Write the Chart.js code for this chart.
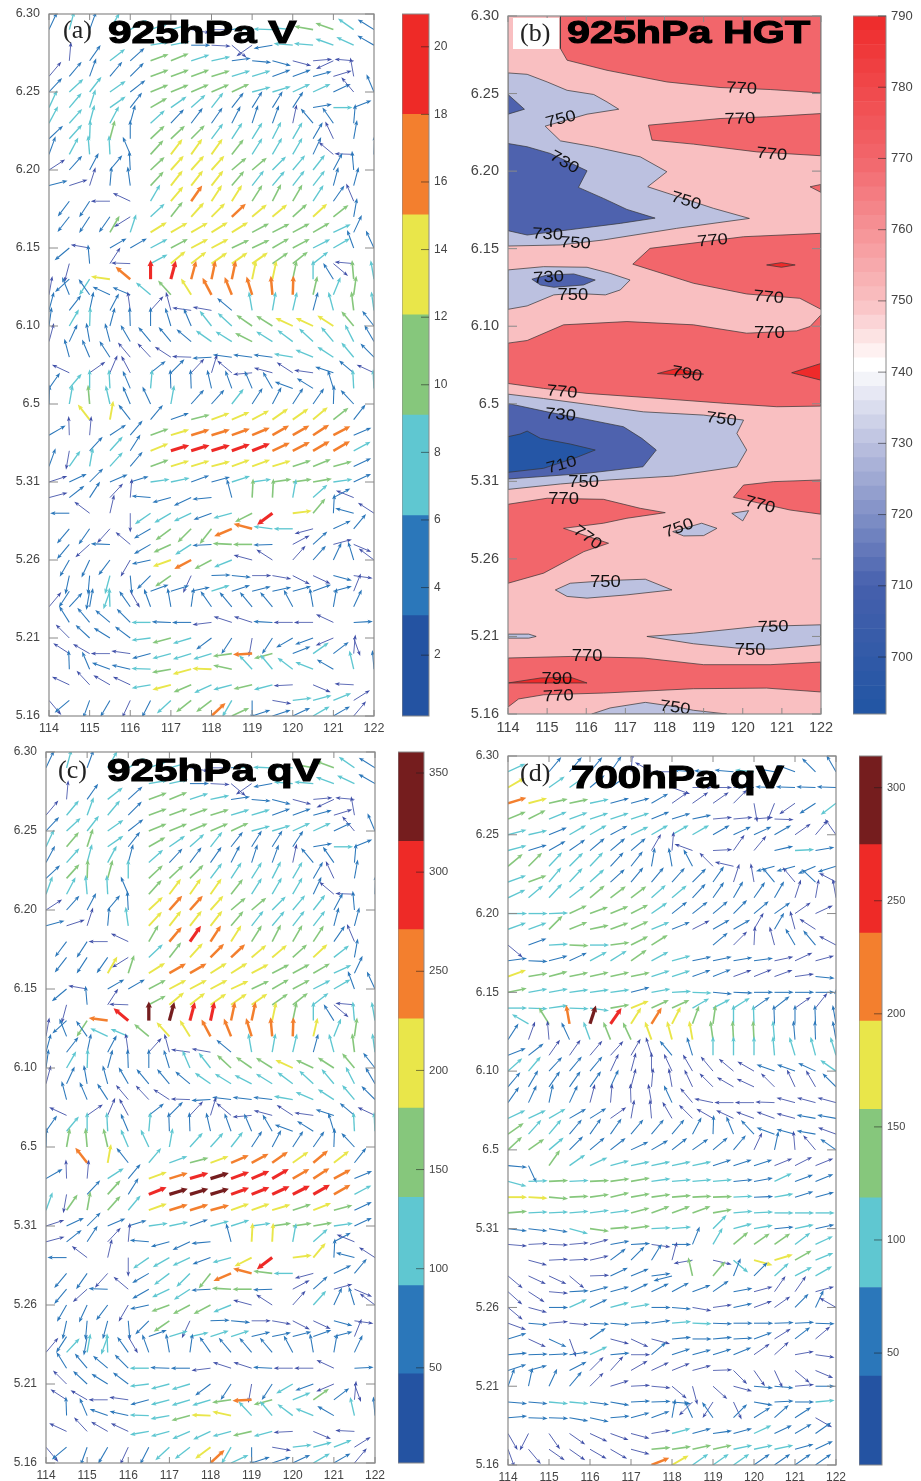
<!DOCTYPE html>
<html>
<head>
<meta charset="utf-8">
<script src="https://cdn.jsdelivr.net/npm/chart.js@4/dist/chart.umd.min.js"></script>
<style>
  body { margin: 0; background: #fff; }
  #page { position: relative; width: 921px; height: 1481px; overflow: hidden; }
  canvas { position: absolute; }
  .tag { position: absolute; font: 26px "Liberation Serif", serif; color: #222; line-height: 1; z-index: 3; }
  .title { position: absolute; font: bold 32px "Liberation Sans", sans-serif; color: #000; line-height: 1; z-index: 3;
    -webkit-text-stroke: 1.1px #000; transform-origin: left top; white-space: nowrap; }
  #tagbox { position: absolute; left: 513px; top: 18px; width: 46px; height: 31px; background: #fff; z-index: 2; }
</style>
</head>
<body>
<div id="page">
  <div id="tagbox"></div>
  <span class="tag" style="left:63px;top:17px">(a)</span>
  <span class="title" style="left:108px;top:16px;transform:scaleX(1.325)">925hPa V</span>
  <span class="tag" style="left:520px;top:20px">(b)</span>
  <span class="title" style="left:567px;top:16px;transform:scaleX(1.29)">925hPa HGT</span>
  <span class="tag" style="left:58px;top:757px">(c)</span>
  <span class="title" style="left:107px;top:754px;transform:scaleX(1.32)">925hPa qV</span>
  <span class="tag" style="left:520px;top:760px">(d)</span>
  <span class="title" style="left:571px;top:761px;transform:scaleX(1.315)">700hPa qV</span>
</div>
<script>
const lons = [114,114.5,115,115.5,116,116.5,117,117.5,118,118.5,119,119.5,120,120.5,121,121.5,122];
const dateLabels = ["5.16","5.21","5.26","5.31","6.5","6.10","6.15","6.20","6.25","6.30"];

// wind rows run from day 44 (top) to day 0, direction in degrees ccw from east, speed 0 = no arrow
const aDir = [
[65,75,70,60,30,20,15,350,0,5,178,178,175,170,160,145,148],
[0,0,0,0,0,10,12,0,357,320,215,190,175,175,160,155,150],
[0,85,55,38,42,20,22,18,12,8,355,345,345,5,205,175,0],
[50,50,70,50,45,20,20,20,17,17,17,20,20,15,17,100,0],
[47,43,52,35,38,22,22,23,23,25,15,17,25,25,25,130,113],
[65,50,72,35,52,30,35,42,52,52,58,58,57,10,0,22,0],
[62,48,75,62,75,42,47,53,55,63,72,70,78,130,125,85,0],
[43,48,88,75,90,43,43,45,53,57,58,63,60,60,115,80,0],
[70,62,95,93,113,48,53,55,55,52,58,60,60,65,140,178,88],
[33,48,62,50,93,43,48,48,48,40,40,45,50,52,62,95,0],
[15,18,72,85,98,47,52,52,52,50,52,50,52,52,75,75,0],
[0,233,237,180,155,60,50,55,57,58,58,63,60,57,55,113,0],
[0,232,237,235,212,43,52,48,45,43,40,40,42,43,38,80,0],
[0,0,0,60,72,32,30,30,32,32,28,27,28,30,25,65,0],
[0,220,170,30,30,28,28,28,28,25,25,30,28,27,30,110,115],
[0,255,95,57,178,28,40,38,35,35,35,35,38,38,320,175,0],
[0,222,237,172,140,90,75,75,78,78,78,78,78,90,122,95,100],
[80,112,125,155,157,140,132,122,118,112,107,95,88,77,68,82,0],
[75,52,78,62,98,48,105,172,170,140,100,80,77,75,105,97,98],
[82,60,88,75,92,90,107,113,128,137,145,148,155,155,147,130,128],
[75,65,100,105,120,130,130,140,145,148,153,148,143,137,130,117,120],
[0,105,113,123,130,133,147,178,183,173,173,173,170,157,147,130,135],
[0,155,35,67,118,38,45,47,73,140,185,165,147,172,162,140,155],
[55,50,90,93,113,85,92,92,103,110,113,120,160,148,107,93,93],
[88,80,95,103,113,115,80,48,48,52,57,62,57,55,88,133,0],
[0,0,128,80,128,50,20,15,20,23,28,35,35,40,38,52,0],
[30,92,85,33,50,20,17,17,17,20,23,30,30,33,28,23,0],
[0,260,47,48,58,22,17,17,17,20,22,25,27,30,30,28,0],
[70,55,80,48,50,20,17,17,15,20,20,17,18,22,15,25,0],
[18,25,45,23,17,8,12,20,15,18,8,8,8,10,8,25,0],
[15,38,57,47,85,175,195,205,185,105,87,87,80,42,28,158,0],
[0,180,143,77,270,215,210,205,200,195,207,217,7,50,87,165,147],
[0,230,235,228,0,210,217,225,232,203,165,173,180,195,25,50,0],
[0,230,222,178,140,210,205,213,183,177,180,182,28,42,15,337,0],
[0,240,245,233,240,192,200,208,208,202,165,147,48,48,65,107,143],
[0,258,265,255,275,225,215,245,2,355,0,350,333,335,345,352,0],
[0,237,260,250,300,20,17,12,18,18,14,12,15,20,15,68,0],
[50,47,80,92,125,110,100,82,125,130,130,130,118,100,80,65,0],
[0,122,130,140,135,180,178,180,187,162,162,177,180,180,155,3,0],
[0,135,137,148,143,187,195,197,217,237,260,237,210,200,203,290,0],
[0,147,150,180,172,195,195,197,197,188,183,195,22,35,37,85,0],
[0,92,113,160,167,178,190,195,178,168,133,130,143,158,150,103,95],
[0,155,133,150,155,190,195,203,205,195,193,195,183,337,0,177,0],
[310,220,250,240,245,243,223,218,217,240,270,350,7,15,22,32,0],
[0,0,0,0,0,0,0,0,43,25,18,18,25,30,30,50,0]
];
const aSpd = [
[5,8,5,8,8,8,8,2,2,5,8,8,8,11,11,8,5],
[0,0,0,0,0,8,8,5,2,2,2,5,8,8,8,8,5],
[0,2,5,8,5,11,11,8,8,5,5,5,2,2,2,2,0],
[2,5,5,5,5,11,11,11,11,8,8,5,5,5,2,2,0],
[5,8,8,8,5,11,11,11,11,11,8,8,8,8,5,2,5],
[8,8,8,8,5,11,8,8,8,5,5,5,5,5,8,5,0],
[8,8,8,8,5,8,5,5,5,5,5,5,2,5,5,5,0],
[5,8,8,11,5,11,11,11,8,8,8,8,8,5,2,5,0],
[5,8,8,8,5,11,14,14,14,11,8,8,8,5,2,2,5],
[2,5,5,5,5,11,14,14,14,11,11,8,8,8,5,5,0],
[5,2,2,5,5,11,14,14,14,11,8,8,8,8,5,5,0],
[0,5,5,2,2,8,14,17,14,14,11,11,11,8,5,2,0],
[0,5,5,5,2,8,11,14,14,17,14,14,11,14,11,5,0],
[0,0,0,11,8,14,14,14,14,14,11,11,11,11,8,5,0],
[0,5,2,5,5,8,11,14,14,11,11,11,11,8,8,5,5],
[0,2,5,2,2,8,14,14,14,14,14,11,11,8,2,2,0],
[0,5,8,14,17,19,19,17,17,17,14,14,11,8,5,11,8],
[2,5,5,5,5,8,11,14,17,17,17,17,17,11,8,11,0],
[5,5,5,5,2,2,2,2,2,5,8,8,8,5,8,11,8],
[5,8,8,5,5,5,5,5,8,8,11,11,14,14,14,11,5],
[2,5,5,5,5,5,5,5,8,8,11,8,8,8,8,8,5],
[0,5,5,5,2,2,2,2,5,5,5,5,8,8,8,8,5],
[0,2,2,2,2,5,5,2,2,2,2,2,2,2,5,5,2],
[5,8,8,8,5,8,5,5,5,5,5,5,5,5,5,8,8],
[5,8,11,8,5,5,8,5,5,8,5,5,5,5,5,5,0],
[0,0,14,14,5,5,5,11,14,14,14,14,14,14,11,5,0],
[5,2,2,5,5,11,14,17,17,17,17,17,17,17,17,5,0],
[0,2,5,8,5,14,19,19,19,19,19,17,17,17,17,8,0],
[5,8,8,8,5,11,14,14,14,14,14,14,11,11,11,5,0],
[2,5,5,5,5,8,8,5,5,8,8,11,11,11,8,5,0],
[2,5,5,2,2,5,5,5,5,5,11,11,8,8,5,2,0],
[0,5,2,2,2,8,8,8,5,8,11,19,14,11,5,5,2],
[0,5,5,2,0,5,11,11,11,17,17,8,8,2,5,5,0],
[0,5,2,5,2,5,11,8,5,11,11,5,2,5,2,2,0],
[0,5,5,5,2,5,14,17,11,8,2,2,2,5,5,5,2],
[0,5,5,8,5,5,11,2,5,5,2,2,2,2,5,2,0],
[0,5,5,8,2,5,5,5,8,5,5,5,5,5,5,2,0],
[2,5,5,8,5,5,5,5,5,5,5,5,5,5,5,5,0],
[0,5,5,5,5,8,5,5,2,2,2,5,2,2,2,5,0],
[0,2,5,5,5,8,11,8,5,5,2,5,5,5,2,2,0],
[0,2,2,2,2,5,8,8,8,11,17,11,5,8,5,2,0],
[0,5,5,5,5,8,11,14,14,11,8,8,8,8,5,8,5],
[0,2,2,2,2,8,14,11,8,8,11,8,2,2,0,2,0],
[2,5,5,5,2,5,8,11,11,8,5,2,8,8,8,2,0],
[0,0,0,0,0,0,0,0,17,11,5,5,5,8,5,2,0]
];
const cSpd = [
[70,115,70,115,115,115,115,25,25,70,115,115,115,160,160,115,70],
[0,0,0,0,0,115,115,70,25,25,25,70,115,115,115,115,70],
[0,25,70,115,70,160,160,115,115,70,70,70,25,25,25,25,0],
[25,115,115,115,70,160,160,160,160,115,115,70,70,70,25,25,0],
[70,115,115,115,70,160,160,160,160,160,115,115,115,115,70,25,70],
[115,160,160,115,70,160,115,115,115,70,70,70,70,70,115,70,0],
[70,115,115,115,70,115,70,70,70,70,70,70,25,70,70,70,0],
[70,160,160,160,115,160,160,160,115,115,115,115,115,70,25,70,0],
[115,115,115,115,70,160,205,205,205,160,115,115,115,70,25,25,70],
[25,70,70,70,70,205,250,250,205,160,160,115,115,115,70,70,0],
[70,25,25,70,115,205,205,205,205,160,115,115,115,115,70,70,0],
[0,70,70,25,25,160,250,295,250,205,160,160,160,160,70,25,0],
[0,70,70,70,25,115,160,205,250,250,205,205,160,205,115,70,0],
[0,0,0,205,160,205,250,250,205,205,205,160,160,160,115,70,0],
[0,70,25,70,70,160,205,205,205,205,160,160,160,115,115,70,70],
[0,25,70,25,25,160,205,205,205,205,205,160,160,115,25,25,0],
[0,70,160,250,295,340,340,295,295,250,250,205,160,115,70,115,115],
[25,70,70,115,115,160,205,205,250,250,250,250,250,205,115,160,0],
[70,70,70,70,25,25,25,25,25,70,115,115,115,70,115,160,115],
[70,115,115,70,70,70,70,115,115,160,160,160,205,160,160,160,70],
[25,70,70,70,70,70,70,70,115,115,115,115,115,115,115,115,70],
[0,70,70,70,25,25,25,25,70,70,70,70,115,115,115,115,70],
[0,25,25,25,25,70,70,25,25,25,25,25,25,25,70,70,25],
[70,115,115,115,70,115,70,70,70,70,70,70,70,70,70,115,115],
[70,160,160,160,115,115,115,115,115,115,70,70,70,70,70,70,0],
[0,0,250,205,70,115,115,160,205,250,250,250,205,250,205,70,0],
[70,25,25,115,70,205,250,295,340,295,295,295,250,250,250,70,0],
[0,25,70,160,70,295,340,340,340,295,295,295,295,295,250,115,0],
[115,160,160,160,115,205,250,250,250,205,205,205,160,205,160,70,0],
[25,70,70,70,70,115,115,70,115,115,115,160,160,160,115,70,0],
[25,70,70,25,25,70,70,70,70,70,205,205,115,115,70,25,0],
[0,70,25,25,25,115,115,115,70,115,205,295,205,205,70,70,25],
[0,70,70,25,0,70,115,115,160,250,250,160,115,25,70,70,0],
[0,70,25,70,25,70,115,115,70,160,160,70,25,70,25,25,0],
[0,70,70,70,25,70,160,160,160,115,25,25,25,115,70,70,25],
[0,70,70,70,70,70,160,25,70,70,25,25,25,25,70,25,0],
[0,70,70,115,25,70,115,115,115,115,70,70,70,70,70,25,0],
[25,115,115,115,70,70,70,70,70,70,70,70,70,70,70,70,0],
[0,70,70,70,70,115,70,70,25,25,25,70,25,25,25,70,0],
[0,25,70,70,70,115,115,115,70,70,25,70,115,70,25,25,0],
[0,25,25,25,25,70,115,115,115,160,250,160,115,160,70,25,0],
[0,70,70,70,70,115,115,160,205,205,115,115,115,115,70,115,70],
[0,25,25,25,25,115,115,115,115,115,160,115,25,25,0,25,0],
[25,70,70,70,25,70,115,115,205,115,70,25,115,115,115,25,0],
[0,0,0,0,0,0,0,0,250,115,70,70,70,115,70,25,0]
];
const dDir = [
[25,0,50,50,50,55,85,150,180,175,177,175,175,170,160,135,120],
[30,0,35,35,40,35,0,0,340,0,0,3,178,178,178,178,178],
[17,15,13,12,12,15,15,30,35,35,35,45,280,248,215,213,217],
[22,27,22,20,18,18,18,22,17,12,5,5,5,358,0,0,0],
[15,13,22,30,30,28,25,30,30,30,30,25,25,30,35,50,125],
[15,17,30,35,40,40,40,60,85,160,3,55,50,13,3,10,0],
[40,45,47,45,47,47,52,80,100,118,135,167,0,195,195,203,197],
[20,20,50,47,42,42,50,50,48,45,55,72,100,130,130,137,152],
[25,40,47,38,40,37,37,42,40,47,55,60,55,60,72,80,100],
[0,0,2,25,20,22,27,35,38,38,40,45,40,35,35,25,0],
[20,20,45,22,12,20,25,22,22,27,30,30,60,60,105,147,0],
[320,20,3,358,0,8,27,32,0,0,40,45,87,105,120,130,152],
[8,358,15,25,28,32,35,28,15,12,12,10,8,12,25,15,0],
[20,10,15,12,13,13,12,18,18,20,22,20,22,20,8,355,0],
[12,10,10,8,8,8,15,10,3,358,355,358,0,0,0,0,0],
[0,358,8,358,352,10,22,25,25,30,27,32,35,38,35,52,90],
[0,150,122,100,72,55,58,58,63,70,82,90,92,92,90,92,100],
[57,70,95,115,110,112,115,110,105,100,98,93,93,95,95,92,100],
[22,38,55,55,50,48,60,107,130,107,90,90,90,95,107,105,107],
[42,50,47,50,50,65,75,90,115,120,130,140,150,160,160,155,145],
[50,60,55,55,55,65,75,85,100,115,135,150,155,135,115,120,135],
[55,65,78,65,75,85,92,100,115,130,168,180,180,178,165,165,165],
[25,25,30,30,32,35,80,95,120,135,150,155,160,160,165,170,170],
[35,48,50,50,55,55,50,50,50,62,88,112,133,160,165,170,160],
[43,35,40,45,40,38,25,30,38,35,40,50,65,78,95,130,145],
[355,295,55,35,25,15,12,12,12,12,18,18,18,22,27,22,0],
[345,2,3,3,3,8,10,8,5,5,5,5,10,25,20,22,0],
[0,357,355,3,8,13,10,8,5,3,2,3,2,10,17,15,0],
[5,3,3,5,8,8,15,20,20,20,10,5,3,0,0,0,0],
[353,353,350,345,352,5,8,3,5,0,45,15,10,5,12,12,15],
[355,3,358,5,15,10,3,352,0,68,60,40,35,35,37,25,0],
[0,345,3,3,13,37,45,58,75,190,347,320,345,17,30,22,0],
[320,335,335,320,2,25,22,7,195,103,50,68,45,42,28,30,0],
[318,327,355,3,15,15,25,25,28,20,35,10,15,55,55,15,0],
[320,345,0,25,25,15,10,0,355,350,8,12,20,35,45,65,150],
[340,355,5,355,357,355,3,8,5,358,358,0,0,2,3,358,0],
[17,335,335,290,35,345,335,345,5,0,5,3,20,32,38,40,0],
[5,2,3,8,25,5,0,40,18,15,17,22,35,42,10,352,0],
[18,15,0,27,45,48,30,25,22,15,2,315,305,295,320,337,0],
[70,78,65,50,45,17,3,355,320,285,318,345,355,355,5,0,0],
[355,355,355,355,352,350,3,2,355,225,237,295,350,3,0,5,0],
[5,358,358,350,348,5,15,20,80,115,125,45,32,42,33,330,0],
[300,243,305,325,335,340,345,10,15,15,8,15,25,25,30,35,0],
[290,310,325,325,330,330,345,5,8,12,12,12,12,12,15,25,0],
[0,0,0,0,0,0,0,22,30,35,35,35,35,35,35,35,0]
];
const dSpd = [
[100,0,60,60,60,60,20,20,20,60,60,60,100,60,60,60,60],
[178,0,100,100,60,60,0,0,20,20,20,20,60,60,60,60,60],
[216,178,140,140,100,60,60,60,20,20,20,20,20,20,20,60,100],
[140,140,100,100,100,100,100,60,60,60,20,20,20,20,0,0,0],
[100,100,60,100,100,60,100,100,100,100,60,60,60,60,20,20,20],
[100,60,60,60,60,60,60,20,20,20,20,20,20,60,100,60,0],
[140,140,100,100,100,60,60,60,60,60,20,20,0,60,60,60,60],
[100,140,100,100,100,60,60,60,60,60,60,20,20,60,20,60,20],
[100,100,100,100,140,140,140,100,100,60,60,60,60,60,20,20,20],
[100,100,100,140,140,140,140,100,60,60,60,60,60,60,20,20,0],
[100,100,140,140,140,140,140,100,60,20,60,60,20,60,20,20,0],
[20,60,100,140,100,140,140,140,0,0,60,20,20,20,60,60,20],
[60,60,60,60,100,100,140,100,100,60,60,60,60,20,20,20,0],
[178,140,140,140,140,140,140,100,100,60,60,20,20,20,20,60,0],
[140,100,100,100,100,100,60,100,100,100,60,60,60,60,60,60,0],
[100,100,100,100,100,140,178,140,140,100,100,100,60,60,20,20,60],
[0,100,140,216,295,255,178,216,178,140,140,100,100,60,60,60,60],
[60,20,20,60,100,140,140,178,178,178,140,140,140,100,60,60,60],
[60,60,20,20,20,20,20,20,60,60,100,100,100,100,100,100,100],
[100,100,60,60,60,20,20,20,20,20,20,20,20,60,60,60,100],
[60,60,60,60,60,60,20,20,20,20,20,20,20,20,20,20,60],
[60,60,60,60,20,20,20,20,60,20,20,20,20,20,20,20,20],
[100,100,100,60,60,20,20,20,20,20,20,20,20,20,20,60,60],
[140,100,100,60,60,60,60,60,60,60,60,60,60,60,60,60,20],
[140,140,100,60,60,60,60,60,60,60,60,60,20,60,20,20,60],
[60,60,140,100,100,100,100,100,100,100,60,60,60,20,20,20,0],
[100,100,140,100,140,140,140,100,100,100,100,60,60,100,60,60,0],
[178,178,140,140,140,140,140,140,140,140,140,100,60,100,60,60,0],
[140,100,100,100,100,100,140,140,140,140,140,100,100,100,100,100,0],
[60,60,60,100,140,140,140,100,100,0,100,100,100,60,100,60,100],
[20,20,20,20,20,60,60,20,60,60,100,140,140,140,100,100,0],
[0,20,20,20,20,60,60,60,20,20,20,100,178,178,140,100,0],
[20,20,20,20,20,60,60,60,60,140,140,60,60,100,100,100,0],
[20,20,20,60,60,60,60,60,60,60,60,60,20,20,20,20,0],
[20,20,60,100,60,100,100,60,60,20,20,60,20,20,60,60,20],
[20,60,20,20,60,60,60,60,100,100,60,60,60,60,60,60,0],
[60,20,60,20,60,20,20,20,60,60,60,60,60,20,60,20,0],
[60,60,60,60,100,60,20,60,60,60,60,60,20,20,20,20,0],
[60,60,0,60,20,20,20,20,20,20,20,20,20,20,20,20,0],
[60,60,60,60,20,20,20,20,20,20,20,20,60,60,20,60,0],
[60,60,100,100,60,60,60,60,60,20,20,20,60,60,60,100,0],
[60,60,60,60,60,60,60,60,60,60,60,60,60,60,60,20,0],
[20,20,20,20,20,20,20,20,100,60,60,60,100,60,60,60,0],
[20,20,20,20,20,20,20,140,140,140,140,100,100,100,60,60,0],
[0,0,0,0,0,0,0,216,178,100,100,100,60,60,60,60,0]
];

// colour bar bands
const windLevels = [0.2,3.17,6.13,9.1,12.07,15.03,18,20.97];
const windTicks = [2,4,6,8,10,12,14,16,18,20];
const flux925Levels = [2,47,91.5,136,181,226,271,315.6,360.6];
const flux925Ticks = [50,100,150,200,250,300,350];
const flux700Levels = [0.5,39.8,79,118.6,157.8,196.8,235.7,274.8,314];
const flux700Ticks = [50,100,150,200,250,300];
const hgtLevels = [692,694,696,698,700,702,704,706,708,710,712,714,716,718,720,722,724,726,728,730,732,734,736,738,740,742,744,746,748,750,752,754,756,758,760,762,764,766,768,770,772,774,776,778,780,782,784,786,788,790];
const hgtTicks = [700,710,720,730,740,750,760,770,780,790];

const bandColors = ["#2453a2","#2b77ba","#5fc7d1","#86c77c","#e9e64a","#f37f2e","#ee2a27","#751d1e"];
const arrowColors = ["#3f4fa8","#2b77ba","#5fc7d1","#86c77c","#e9e64a","#f37f2e","#ee2a27","#751d1e"];
const arrowWidths = [0.8,1.05,1.35,1.6,1.9,2.5,3.1,3.3];

// contour regions of panel b, [lon, day]
const hgtBase = [[114,0],[122,0],[122,45],[114,45]];
const ridgeTop = [[115.34,45],[115.34,42.9],[115.51,42.15],[116.53,41.5],[118.06,40.75],[119.42,40.39],[120.7,40.26],[122,40.04],[122,45]];
const ridgeMid = [[117.59,37.96],[119.42,38.39],[120.61,38.5],[122,38.71],[122,35.99],[120.36,36.24],[118.74,36.74],[117.68,37]];
const ridgeEdge = [[121.72,33.99],[122,34.14],[122,33.63]];
const ridgeJune15 = [[117.19,29],[117.63,30.02],[118.83,30.39],[120.02,30.77],[122,30.99],[122,26.09],[121.46,26.8],[120.1,27.08],[118.74,27.77]];
const ridgeJune10 = [[114,23.91],[114.49,24.08],[115.42,25.09],[117.04,25.3],[118.74,25.09],[120.1,24.55],[121.38,24.7],[121.72,24.98],[122,25.73],[122,19.85],[120.87,19.81],[119.59,20.02],[117.89,20.34],[116.02,20.67],[114.91,20.99],[114,21.31]];
const ridgeMay30 = [[114,13.52],[115,13.91],[116.44,13.84],[117.38,13.26],[118.02,12.98],[117.04,12.62],[116.44,12.3],[115.42,11.97],[116.57,11.01],[115.94,10.47],[114.91,9.08],[114,8.43]];
const ridgeMay30R = [[120.02,14.76],[120.78,14.98],[122,15.09],[122,12.88],[121.21,13.15],[119.76,13.97]];
const ridgeMay18 = [[114,3.61],[115.59,3.71],[117.46,3.61],[119,3.18],[120.7,3.18],[122,3.35],[122,1.42],[120.61,1.67],[118.74,1.63],[116.44,1.35],[114.91,1.24],[114.27,0.97],[114,0.45]];
const peakJune15 = [[120.61,28.95],[120.99,29.1],[121.34,28.95],[120.99,28.8]];
const peakJune8 = [[117.82,21.95],[118.31,22.27],[119,21.91],[118.31,21.87]];
const peakJune8R = [[121.25,22],[122,22.6],[122,21.52]];
const peakMay18 = [[114,2],[114.83,2.32],[115.59,2.38],[116.02,2]];
const lowTop = [[114,41.33],[114.49,41.24],[115,40.75],[115.51,40.21],[116.19,39.94],[116.53,39.46],[116.83,38.99],[116.02,38.67],[114.95,37.9],[115.34,36.95],[116.19,36.57],[117.38,35.92],[118.06,34.96],[117.57,33.99],[118.23,33.45],[119.25,32.6],[120.17,31.95],[118.31,31.31],[116.44,30.56],[115.34,30.24],[114,30.17]];
const lowJune13 = [[114,28.63],[114.91,28.84],[116.02,28.8],[116.61,28.41],[117.12,27.98],[116.87,27.34],[116.49,27.02],[115.68,27.12],[115.17,27.02],[114.49,26.31],[114,26.09]];
const lowJune5 = [[114,20.62],[114.91,20.34],[116.19,19.91],[117.46,19.48],[119,19.27],[120.02,18.95],[119.85,18.09],[120.1,17.02],[119.85,15.94],[118.23,15.34],[116.6,15.09],[115.34,14.83],[114,14.48]];
const lowMay28 = [[118.21,11.76],[118.95,12.3],[119.34,11.97],[119,11.5],[118.49,11.48]];
const lowMay29 = [[119.72,12.94],[120.15,13.11],[120,12.45]];
const lowMay24 = [[115.21,8],[115.59,8.43],[116.61,8.61],[117.51,8.69],[118.19,8],[117.04,7.68],[116.02,7.47],[115.51,7.58]];
const lowMay21L = [[114,5.15],[114.53,5.15],[114.72,5],[114.53,4.89],[114,4.89]];
const lowMay21R = [[117.55,5],[118.74,5.21],[120.36,5.64],[122,5.75],[122,4.46],[120.7,4.18],[119.85,4.25],[118.74,4.53]];
const lowBottom = [[116.14,0],[116.61,0.39],[117.51,0.75],[118.23,0.49],[118.74,0.24],[119.59,0]];
const deepCorner = [[114,39.94],[114.42,38.99],[114,38.67]];
const deepJune20 = [[114,36.78],[114.49,36.57],[115.08,36.14],[116.02,35.02],[115.8,33.95],[116.44,33.24],[117.04,32.53],[117.76,31.97],[116.87,31.63],[115.51,31.2],[114.49,30.88],[114,31.16]];
const deepJune13 = [[114.61,28.03],[115,28.3],[115.68,28.37],[116.23,27.98],[115.93,27.66],[115.17,27.51],[114.83,27.66]];
const deepJune5 = [[114,20.02],[115,19.48],[116.02,18.99],[116.95,18.52],[117.42,17.77],[117.79,17.02],[117.45,15.94],[116.02,15.52],[114,15.15]];
const coreJune2 = [[114,17.88],[114.31,18.05],[114.49,18.24],[114.83,17.77],[115.6,17.4],[116.23,17.02],[115.76,16.55],[114.91,15.84],[114,15.58]];

// value, lon, day, rotation
const hgtContourLabels = [
["770",119.97,40.32,3],["770",119.93,38.35,-2],["770",120.74,36.07,5],["750",115.35,38.33,-15],
["730",115.44,35.56,30],["750",118.55,33.07,17],["730",115.01,30.9,3],["750",115.72,30.34,3],
["770",119.23,30.51,-5],["730",115.04,28.13,-3],["750",115.66,26.95,0],["770",120.66,26.85,5],
["770",120.68,24.55,0],["790",118.57,21.91,10],["770",115.38,20.75,5],["730",115.34,19.27,5],
["750",119.45,18.99,8],["710",115.37,16.05,-15],["750",115.93,14.94,0],["770",115.42,13.84,0],
["770",120.44,13.48,15],["770",116.03,11.37,35],["750",118.36,11.97,-20],["750",116.49,8.5,0],
["750",120.78,5.6,-2],["750",120.19,4.1,0],["770",116.02,3.67,0],["790",115.25,2.25,0],
["770",115.29,1.14,-3],["750",118.27,0.39,8]
];

const PINK = "#f9bfc1", RED = "#f2666b", BRIGHT = "#ee2a2a", LAV = "#bcc1e0", DARK = "#4e62ae", DEEP = "#2556a6";
const hgtRegions = [
  [hgtBase,PINK],[ridgeTop,RED],[ridgeMid,RED],[ridgeEdge,RED],[ridgeJune15,RED],[ridgeJune10,RED],[ridgeMay30,RED],[ridgeMay30R,RED],[ridgeMay18,RED],
  [peakJune15,BRIGHT],[peakJune8,BRIGHT],[peakJune8R,BRIGHT],[peakMay18,BRIGHT],
  [lowTop,LAV],[lowJune13,LAV],[lowJune5,LAV],[lowMay28,LAV],[lowMay29,LAV],[lowMay24,LAV],[lowMay21L,LAV],[lowMay21R,LAV],[lowBottom,LAV],
  [deepCorner,DARK],[deepJune20,DARK],[deepJune13,DARK],[deepJune5,DARK],[coreJune2,DEEP]
];

function mix(a, b, t) {
  const p = s => [1,3,5].map(i => parseInt(s.substr(i,2),16));
  const A = p(a), B = p(b);
  return "rgb(" + A.map((v,i) => Math.round(v + (B[i]-v)*t)).join(",") + ")";
}
const hgtStops = [[692,"#2155a3"],[710,"#4660ad"],[730,"#bcc1e0"],[741,"#ffffff"],[750,"#f9bfc1"],[770,"#f2666b"],[790,"#ee2a2a"]];
function hgtColor(v) {
  for (let i = 1; i < hgtStops.length; i++) {
    if (v <= hgtStops[i][0]) {
      const [a,ca] = hgtStops[i-1], [b,cb] = hgtStops[i];
      return mix(ca, cb, (v-a)/(b-a));
    }
  }
  return hgtStops[hgtStops.length-1][1];
}

function vectorPoints(dirs, spds) {
  const pts = [];
  dirs.forEach((row, r) => row.forEach((dir, c) => {
    if (spds[r][c] > 0) pts.push({ x: lons[c], y: 44 - r, dir, spd: spds[r][c] });
  }));
  return pts;
}

const vectorPlugin = {
  id: "vectors",
  afterDatasetsDraw(chart, args, opts) {
    if (!opts.levels) return;
    const { ctx, chartArea: ca } = chart;
    const meta = chart.getDatasetMeta(0);
    ctx.save();
    ctx.beginPath();
    ctx.rect(ca.left, ca.top, ca.right - ca.left, ca.bottom - ca.top);
    ctx.clip();
    chart.data.datasets[0].data.forEach((p, i) => {
      const el = meta.data[i];
      let band = opts.levels.findIndex(l => p.spd < l) - 1;
      if (band < 0) band = arrowColors.length - 1;
      const a = -p.dir * Math.PI / 180, w = arrowWidths[band], L = 19.2;
      ctx.save();
      ctx.translate(el.x, el.y);
      ctx.rotate(a);
      ctx.strokeStyle = ctx.fillStyle = arrowColors[band];
      ctx.lineWidth = w;
      ctx.beginPath();
      ctx.moveTo(0, 0);
      ctx.lineTo(L - 4, 0);
      ctx.stroke();
      const hw = 1.4 + w * 0.55, hl = 4.8 + w * 0.5;
      ctx.beginPath();
      ctx.moveTo(L, 0);
      ctx.lineTo(L - hl, -hw);
      ctx.lineTo(L - hl + 1.2, 0);
      ctx.lineTo(L - hl, hw);
      ctx.closePath();
      ctx.fill();
      ctx.restore();
    });
    ctx.restore();
  }
};

const framePlugin = {
  id: "frame",
  afterDraw(chart, args, opts) {
    const { ctx, chartArea: ca, scales } = chart;
    if (!opts.plot) return;
    ctx.save();
    ctx.strokeStyle = "#8a8a8a";
    ctx.lineWidth = 1.2;
    ctx.strokeRect(ca.left, ca.top, ca.right - ca.left, ca.bottom - ca.top);
    ctx.lineWidth = 1;
    ctx.beginPath();
    scales.x.ticks.forEach(t => {
      const x = scales.x.getPixelForValue(t.value);
      ctx.moveTo(x, ca.top); ctx.lineTo(x, ca.top + 6);
      ctx.moveTo(x, ca.bottom); ctx.lineTo(x, ca.bottom - 6);
    });
    scales.y.ticks.forEach(t => {
      const y = scales.y.getPixelForValue(t.value);
      ctx.moveTo(ca.left, y); ctx.lineTo(ca.left + 9, y);
      ctx.moveTo(ca.right, y); ctx.lineTo(ca.right - 9, y);
    });
    ctx.stroke();
    ctx.restore();
  }
};

const contourLabelPlugin = {
  id: "contourLabels",
  afterDatasetsDraw(chart, args, opts) {
    if (!opts.labels) return;
    const { ctx, scales } = chart;
    ctx.save();
    ctx.fillStyle = "#111";
    ctx.font = "16px 'Liberation Sans', sans-serif";
    ctx.textAlign = "center";
    ctx.textBaseline = "middle";
    opts.labels.forEach(([txt, lon, day, rot]) => {
      ctx.save();
      ctx.translate(scales.x.getPixelForValue(lon), scales.y.getPixelForValue(day));
      ctx.rotate(rot * Math.PI / 180);
      ctx.scale(1.15, 1);
      ctx.fillText(txt, 0, 0);
      ctx.restore();
    });
    ctx.restore();
  }
};

const barTickPlugin = {
  id: "barTicks",
  afterDraw(chart, args, opts) {
    if (!opts.bar) return;
    const { ctx, chartArea: ca, scales } = chart;
    ctx.save();
    ctx.strokeStyle = "#8a8a8a";
    ctx.lineWidth = 1;
    ctx.strokeRect(ca.left, ca.top, ca.right - ca.left, ca.bottom - ca.top);
    ctx.strokeStyle = "rgba(30,30,30,.55)";
    ctx.beginPath();
    scales.y.ticks.forEach(t => {
      const y = scales.y.getPixelForValue(t.value);
      ctx.moveTo(ca.right, y); ctx.lineTo(ca.right - 8, y);
    });
    ctx.stroke();
    ctx.restore();
  }
};

const page = document.getElementById("page");

function addCanvas(left, top, w, h) {
  const c = document.createElement("canvas");
  c.width = w; c.height = h;
  c.style.left = left + "px"; c.style.top = top + "px";
  page.appendChild(c);
  return c;
}

function plotChart(box, fontSize, datasets, pluginOpts) {
  const [l, t, r, b] = box;
  const PL = 48, PT = 12, PR = 12, PB = 26;
  const cv = addCanvas(l - PL, t - PT, r - l + PL + PR, b - t + PT + PB);
  const font = { family: "'Liberation Sans', sans-serif", size: fontSize };
  return new Chart(cv, {
    type: "scatter",
    data: { datasets },
    plugins: [vectorPlugin, contourLabelPlugin, framePlugin],
    options: {
      responsive: false,
      animation: false,
      layout: { padding: { top: PT, right: PR, left: 0, bottom: 0 } },
      plugins: { legend: { display: false }, tooltip: { enabled: false }, frame: { plot: true }, ...pluginOpts },
      scales: {
        x: {
          type: "linear", min: 114, max: 122,
          afterFit: s => { s.height = PB; s.paddingLeft = 0; s.paddingRight = 0; },
          grid: { display: false, drawTicks: false }, border: { display: false },
          ticks: { stepSize: 1, color: "#444", font, padding: 5, maxRotation: 0, callback: v => String(v) }
        },
        y: {
          type: "linear", min: 0, max: 45,
          afterFit: s => { s.width = PL; s.paddingTop = 0; s.paddingBottom = 0; },
          grid: { display: false, drawTicks: false }, border: { display: false },
          ticks: { stepSize: 5, color: "#444", font, padding: 9, callback: v => dateLabels[v / 5] }
        }
      }
    }
  });
}

function colorBar(box, fontSize, levels, colors, ticks) {
  const [l, t, r, b] = box;
  const PT = 12, PB = 12, PR = 40;
  const cv = addCanvas(l, t - PT, r - l + PR, b - t + PT + PB);
  const datasets = colors.map((c, i) => ({
    data: [[levels[i], levels[i + 1]]], backgroundColor: c, borderWidth: 0,
    barPercentage: 1, categoryPercentage: 1, grouped: false
  }));
  return new Chart(cv, {
    type: "bar",
    data: { labels: [""], datasets },
    plugins: [barTickPlugin],
    options: {
      responsive: false,
      animation: false,
      layout: { padding: { top: PT, bottom: PB } },
      plugins: { legend: { display: false }, tooltip: { enabled: false }, barTicks: { bar: true } },
      scales: {
        x: { display: false },
        y: {
          position: "right", min: levels[0], max: levels[levels.length - 1],
          afterBuildTicks: s => { s.ticks = ticks.map(value => ({ value })); },
          afterFit: s => { s.width = PR; s.paddingTop = 0; s.paddingBottom = 0; },
          grid: { display: false, drawTicks: false }, border: { display: false },
          ticks: { color: "#444", padding: 5, font: { family: "'Liberation Sans', sans-serif", size: fontSize } }
        }
      }
    }
  });
}

const vecSet = (dirs, spds) => [{ data: vectorPoints(dirs, spds), pointRadius: 0 }];

plotChart([49.3,14,374.7,716.5], 12.5, vecSet(aDir, aSpd), { vectors: { levels: windLevels } });
colorBar([401.5,14,429,716.5], 12, windLevels, bandColors, windTicks);

plotChart([507.7,15.7,821,714.3], 14.5, hgtRegions.map(([pts, col], i) => ({
  data: pts.concat([pts[0]]).map(([x, y]) => ({ x, y })),
  showLine: true, fill: "shape", backgroundColor: col,
  borderColor: i === 0 ? col : "#333", borderWidth: i === 0 ? 0 : 0.7,
  pointRadius: 0, order: -i
})), { contourLabels: { labels: hgtContourLabels } });
colorBar([853,15.7,886,714.3], 13, hgtLevels, hgtLevels.slice(0, -1).map(v => hgtColor(v + 1)), hgtTicks);

plotChart([45.7,752.3,374.7,1463.7], 12, vecSet(aDir, cSpd), { vectors: { levels: flux925Levels } });
colorBar([398,752.3,424.5,1463.7], 11.5, flux925Levels, bandColors, flux925Ticks);

plotChart([507.7,755.7,835.7,1465], 12, vecSet(dDir, dSpd), { vectors: { levels: flux700Levels } });
colorBar([858.7,755.7,882.3,1465], 11, flux700Levels, bandColors, flux700Ticks);
</script>
</body>
</html>
